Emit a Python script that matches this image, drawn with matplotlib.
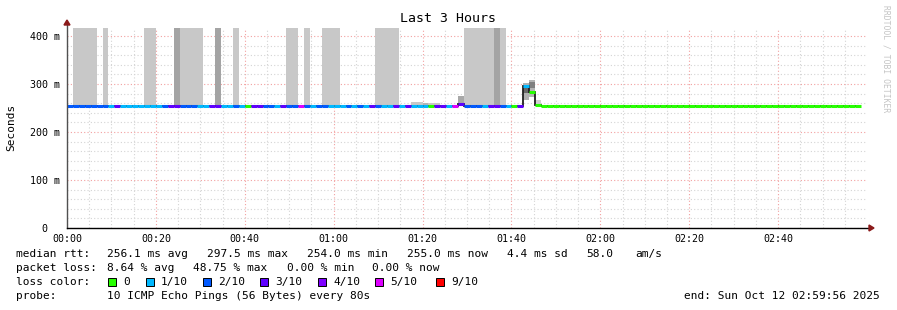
import matplotlib
matplotlib.use('Agg')
import matplotlib.pyplot as plt
from matplotlib.patches import Rectangle, Polygon

# probe step (80 s) in minutes
STEP = 80 / 60

# loss per probe step (number of lost pings out of 10)
loss = [2, 2, 2, 2, 2, 2, 2, 1, 3, 1,
        1, 1, 1, 1, 1, 1, 2, 3, 3, 2,
        2, 2, 1, 1, 3, 3, 1, 1, 2, 1,
        0, 3, 3, 2, 2, 1, 3, 2, 2, 5,
        2, 1, 2, 2, 1, 1, 1, 2, 1, 2,
        1, 3, 2, 1, 1, 3, 1, 3, 1, 1,
        1, 0, 3, 3, 1, 5, 3, 2, 2, 2,
        1, 3, 3, 2, 1, 0, 3, 1, 0, 0,
        0, 0, 0, 0, 0, 0, 0, 0, 0, 0,
        0, 0, 0, 0, 0, 0, 0, 0, 0, 0,
        0, 0, 0, 0, 0, 0, 0, 0, 0, 0,
        0, 0, 0, 0, 0, 0, 0, 0, 0, 0,
        0, 0, 0, 0, 0, 0, 0, 0, 0, 0,
        0, 0, 0, 0]

# median rtt per probe step (ms)
median = [255, 255, 255, 255, 255, 255, 255, 255, 255, 255,
          255, 255, 255, 255, 255, 255, 255, 255, 255, 255,
          255, 255, 255, 255, 255, 255, 255, 255, 255, 255,
          255, 255, 255, 255, 255, 255, 255, 255, 255, 255,
          255, 255, 255, 255, 255, 255, 255, 255, 255, 255,
          255, 255, 255, 255, 255, 255, 255, 255, 255, 255,
          255, 255, 255, 255, 255, 255, 258, 255, 255, 255,
          255, 255, 255, 255, 255, 255, 255, 295, 283, 257,
          255, 255, 255, 255, 255, 255, 255, 255, 255, 255,
          255, 255, 255, 255, 255, 255, 255, 255, 255, 255,
          255, 255, 255, 255, 255, 255, 255, 255, 255, 255,
          255, 255, 255, 255, 255, 255, 255, 255, 255, 255,
          255, 255, 255, 255, 255, 255, 255, 255, 255, 255,
          255, 255, 255, 255]

# smoke (ping spread) per step: step index, low ms, high ms, shade
smoke_step = [1, 2, 3, 4, 6, 13, 14, 18, 19, 20, 21, 22, 25, 28, 37, 38, 40,
              43, 44, 45, 52, 53, 54, 55, 58, 59, 60, 61, 62, 66,
              67, 68, 69, 70, 71, 72, 73, 77, 77, 78, 78, 79]
smoke_lo = [257, 257, 257, 257, 257, 257, 257, 257, 257, 257, 257, 257, 257, 257, 257, 257, 257,
            257, 257, 257, 257, 257, 257, 257, 256, 256, 256, 256, 256, 257,
            257, 257, 257, 257, 257, 257, 257, 267, 281, 273, 292, 256]
smoke_hi = [1500, 1500, 1500, 1500, 1500, 1500, 1500, 1500, 1500, 1500, 1500, 1500, 1500, 1500, 1500, 1500, 1500,
            1500, 1500, 1500, 1500, 1500, 1500, 1500, 262, 262, 260, 260, 260, 275,
            1500, 1500, 1500, 1500, 1500, 1500, 1500, 302, 294, 308, 304, 267]
smoke_shade = ['#c8c8c8'] * 7 + ['#a4a4a4'] + ['#c8c8c8'] * 4 + ['#a4a4a4'] + ['#c8c8c8'] * 11 + \
              ['#c8c8c8', '#c8c8c8', '#b4b4b4', '#c8c8c8', '#c8c8c8', '#a8a8a8'] + \
              ['#c8c8c8'] * 5 + ['#a4a4a4', '#c8c8c8'] + \
              ['#b0b0b0', '#686868', '#b4b4b4', '#808080', '#d0d0d0']

loss_labels = ['0', '1/10', '2/10', '3/10', '4/10', '5/10', '9/10']
loss_colors = ['#26ff00', '#00b8ff', '#0059ff', '#5e00ff', '#7e00ff', '#dd00ff', '#ff0000']

x_ticks = [0, 20, 40, 60, 80, 100, 120, 140, 160]
x_labels = ['00:00', '00:20', '00:40', '01:00', '01:20', '01:40', '02:00', '02:20', '02:40']
y_ticks = [0, 100, 200, 300, 400]
y_labels = ['0  ', '100 m', '200 m', '300 m', '400 m']

W, H = 897, 310
MONO = 'DejaVu Sans Mono'


def fx(x):
    return x / W


def fy(y):
    return 1 - y / H


fig = plt.figure(figsize=(W / 100, H / 100), dpi=100)
ax = fig.add_axes([fx(67), fy(228), 800 / W, 200 / H])
ax.set_xlim(0, 180)
ax.set_ylim(0, 200 / 0.48)

# grid
ax.set_xticks(x_ticks)
ax.set_xticklabels(x_labels, family=MONO, fontsize=7.2)
ax.set_xticks(range(0, 180, 5), minor=True)
ax.set_yticks(y_ticks)
ax.set_yticklabels(y_labels, family=MONO, fontsize=7.2)
ax.set_yticks(range(0, 417, 20), minor=True)
ax.tick_params(which='both', length=0)
ax.tick_params(axis='x', pad=4)
ax.tick_params(axis='y', pad=5)
ax.grid(which='minor', color='#d4d4d4', ls=(0, (1, 2)), lw=0.8)
ax.grid(which='major', color='#f2a0a0', ls=(0, (1, 2)), lw=0.8)
ax.set_axisbelow(True)
for s in ax.spines.values():
    s.set_visible(False)

# smoke
ax.bar([k * STEP for k in smoke_step],
       [h - l for h, l in zip(smoke_hi, smoke_lo)],
       bottom=smoke_lo, width=STEP, align='edge', color=smoke_shade, lw=0, zorder=2)

# median line + loss colours
edges = [k * STEP for k in range(len(median) + 1)]
ax.stairs(median, edges, color='#202020', lw=1.3, baseline=None, zorder=3)
ax.hlines(median, edges[:-1], edges[1:], colors=[loss_colors[l if l < 6 else 6] for l in loss],
          lw=2.2, capstyle='butt', zorder=4)

# axes with arrows
ax.plot([0, 0], [0, 1.02], transform=ax.transAxes, color='#505050', lw=1, clip_on=False, zorder=5)
ax.plot([0, 1.004], [0, 0], transform=ax.transAxes, color='#000000', lw=1, clip_on=False, zorder=5)
fig.patches.append(Polygon([(fx(64), fy(25)), (fx(70), fy(25)), (fx(67), fy(20))],
                           closed=True, transform=fig.transFigure, color='#8b1a1a'))
fig.patches.append(Polygon([(fx(869), fy(225)), (fx(869), fy(231)), (fx(874), fy(228))],
                           closed=True, transform=fig.transFigure, color='#8b1a1a'))

fig.text(fx(448), fy(19), 'Last 3 Hours', family=MONO, fontsize=9.5, ha='center', va='center')
fig.text(fx(11), fy(127), 'Seconds', family=MONO, fontsize=8, rotation=90, ha='center', va='center')
fig.text(fx(886), fy(5), 'RRDTOOL / TOBI OETIKER', family=MONO, fontsize=5.8, rotation=270,
         ha='center', va='top', color='#c4c4c4')

# legend / statistics
rows = [254, 268, 282, 296]
fs = 8
fig.text(fx(16), fy(rows[0]), 'median rtt:', family=MONO, fontsize=fs, va='center')
for x, t in [(107, '256.1 ms avg'), (207, '297.5 ms max'), (307, '254.0 ms min'),
             (407, '255.0 ms now'), (507, '4.4 ms sd'), (586, '58.0'), (635, 'am/s')]:
    fig.text(fx(x), fy(rows[0]), t, family=MONO, fontsize=fs, va='center')

fig.text(fx(16), fy(rows[1]), 'packet loss:', family=MONO, fontsize=fs, va='center')
for x, t in [(107, '8.64 % avg'), (193, '48.75 % max'), (287, '0.00 % min'), (372, '0.00 % now')]:
    fig.text(fx(x), fy(rows[1]), t, family=MONO, fontsize=fs, va='center')

fig.text(fx(16), fy(rows[2]), 'loss color:', family=MONO, fontsize=fs, va='center')
box_x = [108, 146, 203, 260, 318, 375, 436]
for bx, lab, c in zip(box_x, loss_labels, loss_colors):
    fig.patches.append(Rectangle((fx(bx), fy(rows[2] + 4)), 8 / W, 8 / H, transform=fig.transFigure,
                                 facecolor=c, edgecolor='black', lw=0.7))
    fig.text(fx(bx + 15), fy(rows[2]), lab, family=MONO, fontsize=fs, va='center')

fig.text(fx(16), fy(rows[3]), 'probe:', family=MONO, fontsize=fs, va='center')
fig.text(fx(107), fy(rows[3]), '10 ICMP Echo Pings (56 Bytes) every 80s', family=MONO, fontsize=fs, va='center')
fig.text(fx(880), fy(rows[3]), 'end: Sun Oct 12 02:59:56 2025', family=MONO, fontsize=fs, va='center', ha='right')

fig.savefig('out.png', dpi=100)
